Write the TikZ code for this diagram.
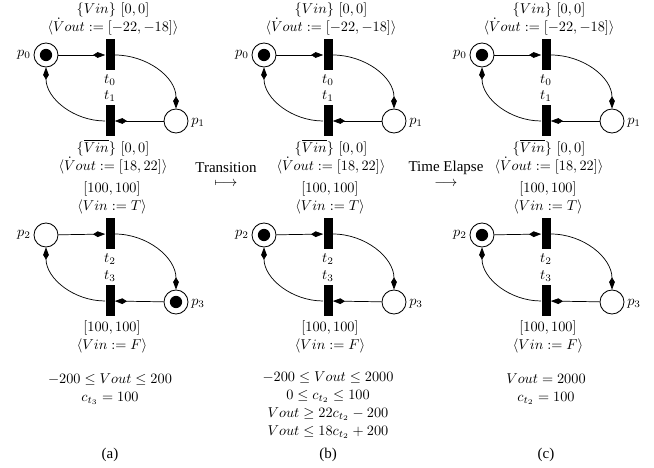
\documentclass[tikz,border=0pt]{standalone}
\usepackage{fontspec}
\newfontfamily\tms{Liberation Serif}
\usetikzlibrary{arrows.meta}
\begin{document}
\begin{tikzpicture}[x=0.7pt,y=-0.7pt,
  place/.style={circle,draw,line width=0.6pt,minimum size=16.8pt,inner sep=0pt},
  marked/.style={place,path picture={\fill (path picture bounding box.center) circle (4.3pt);}},
  trans/.style={fill=black,minimum width=6.3pt,minimum height=21.7pt,inner sep=0pt},
  txt/.style={inner sep=0pt,font=\fontsize{10}{12}\selectfont},
  blk/.style={inner sep=0pt,align=center,font=\fontsize{10}{12.6}\selectfont},
  rtxt/.style={inner sep=0pt,font=\tms\fontsize{10.5}{12}\selectfont},
  arc/.style={line width=0.5pt,-{Kite[length=8.5pt,width=4pt,inset=3.2pt]}},
]
\useasboundingbox (0,0) rectangle (654,468);
\foreach \s/\dx/\ma/\mb in {a/0/place/marked,b/218/marked/place,c/436/marked/place}{
\begin{scope}[xshift=\dx*0.7pt]
  % upper net
  \node[marked] (p0\s) at (46,55) {};
  \node[txt,anchor=east] (p0l\s) at (31,55) {$p_0$};
  \node[trans] (t0\s) at (110,55) {};
  \node[trans] (t1\s) at (110,121) {};
  \node[place] (p1\s) at (176,121) {};
  \node[txt,anchor=west] (p1l\s) at (191,123) {$p_1$};
  \node[txt] (t0l\s) at (110,80) {$t_0$};
  \node[txt] (t1l\s) at (110,96) {$t_1$};
  \node[blk] (ga\s) at (113,19) {$\{Vin\}\ [0,0]$\\$\langle\dot{V}out:=[-22,-18]\rangle$};
  \node[blk] (gc\s) at (113,157) {$\{\overline{Vin}\}\ [0,0]$\\$\langle\dot{V}out:=[18,22]\rangle$};
  \draw[arc] (p0\s) -- (t0\s);
  \draw[arc] (t0\s.east) to[out=0,in=90] (p1\s.north);
  \draw[arc] (p1\s) -- (t1\s);
  \draw[arc] (t1\s.west) to[out=180,in=-90] (p0\s.south);
  % lower net
  \node[blk] (ge\s) at (112,198) {$[100,100]$\\$\langle Vin:=T\rangle$};
  \node[\ma] (p2\s) at (46,235) {};
  \node[txt,anchor=east] (p2l\s) at (31,235) {$p_2$};
  \node[trans] (t2\s) at (110,234) {};
  \node[trans] (t3\s) at (110,301) {};
  \node[\mb] (p3\s) at (176,302) {};
  \node[txt,anchor=west] (p3l\s) at (191,304) {$p_3$};
  \node[txt] (t2l\s) at (110,259) {$t_2$};
  \node[txt] (t3l\s) at (110,276) {$t_3$};
  \node[blk] (gg\s) at (112,337) {$[100,100]$\\$\langle Vin:=F\rangle$};
  \draw[arc] (p2\s) -- (t2\s);
  \draw[arc] (t2\s.east) to[out=0,in=90] (p3\s.north);
  \draw[arc] (p3\s) -- (t3\s);
  \draw[arc] (t3\s.west) to[out=180,in=-90] (p2\s.south);
\end{scope}
}
% constraints
\node[blk] (ka) at (110,389) {$-200\leq Vout\leq 200$\\$c_{t_3}=100$};
\node[blk] (kb) at (328,405) {$-200\leq Vout\leq 2000$\\$0\leq c_{t_2}\leq 100$\\$Vout\geq 22c_{t_2}-200$\\$Vout\leq 18c_{t_2}+200$};
\node[blk] (kc) at (546,389) {$Vout=2000$\\$c_{t_2}=100$};
% captions
\node[rtxt] (capa) at (110,455) {(a)};
\node[rtxt] (capb) at (328,455) {(b)};
\node[rtxt] (capc) at (546,455) {(c)};
% transitions between panels
\node[rtxt] (tr) at (226,168) {Transition};
\node[txt] (tra) at (226,184) {$\longmapsto$};
\node[rtxt] (te) at (446,168) {Time Elapse};
\node[txt] (tea) at (446,184) {$\longrightarrow$};
\end{tikzpicture}
\end{document}
